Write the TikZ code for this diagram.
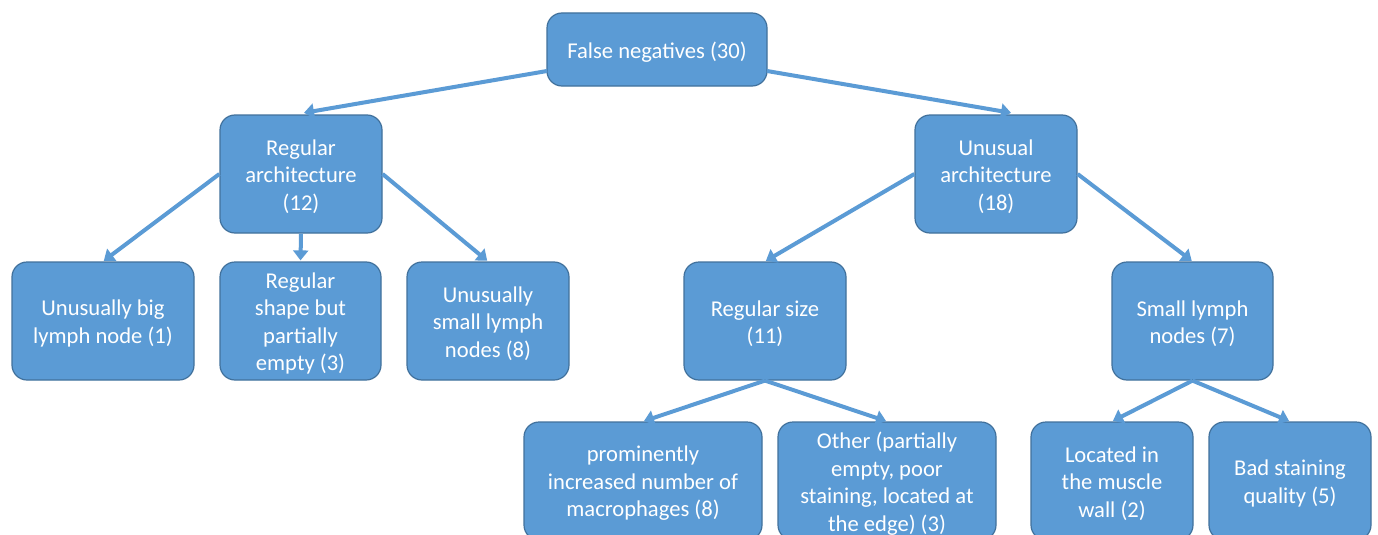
\documentclass[tikz,border=0pt]{standalone}
\usepackage{fontspec}
\setmainfont{Carlito}
\usetikzlibrary{arrows.meta}
\definecolor{boxfill}{HTML}{5B9BD5}
\definecolor{boxline}{HTML}{41719C}
\definecolor{arrowcol}{HTML}{5B9BD5}
\tikzset{
  box/.style={draw=boxline, line width=1.2pt, fill=boxfill, rounded corners=15pt,
    inner sep=0pt},
  boxtext/.style={text=white, align=center, inner sep=0pt, yshift=-2.5pt,
    font=\fontsize{22.6}{27.5}\selectfont},
  conn/.style={draw=arrowcol, line width=4pt,
    -{Triangle[length=10pt,width=15pt]}, shorten >=1pt}
}
\begin{document}
\begin{tikzpicture}[x=1pt,y=-1pt]
\useasboundingbox (0,0) rectangle (1378,535);
\clip (0,0) rectangle (1378,535);
\fill[white] (0,0) rectangle (1378,535);
% nodes
\node[box, minimum width=220pt, minimum height=73pt, label={[boxtext]center:False negatives (30)}] (root) at (657,49.5) {};
\node[box, minimum width=162pt, minimum height=118pt, label={[boxtext]center:{Regular\\architecture\\(12)}}] (reg) at (301,174) {};
\node[box, minimum width=162pt, minimum height=118pt, label={[boxtext]center:{Unusual\\architecture\\(18)}}] (unu) at (996,174) {};
\node[box, minimum width=182pt, minimum height=118pt, label={[boxtext]center:{Unusually big\\lymph node (1)}}] (big) at (103,321) {};
\node[box, minimum width=161pt, minimum height=118pt, label={[boxtext]center:{Regular\\shape but\\partially\\empty (3)}}] (shape) at (300.5,321) {};
\node[box, minimum width=162pt, minimum height=118pt, label={[boxtext]center:{Unusually\\small lymph\\nodes (8)}}] (small) at (488,321) {};
\node[box, minimum width=162pt, minimum height=118pt, label={[boxtext]center:{Regular size\\(11)}}] (size) at (765,321) {};
\node[box, minimum width=161pt, minimum height=118pt, label={[boxtext]center:{Small lymph\\nodes (7)}}] (slymph) at (1192.5,321) {};
\node[box, minimum width=238pt, minimum height=118pt, label={[boxtext]center:{prominently\\increased number of\\macrophages (8)}}] (macro) at (643,481) {};
\node[box, minimum width=218pt, minimum height=118pt, label={[boxtext]center:{Other (partially\\empty, poor\\staining, located at\\the edge) (3)}}] (other) at (887,481) {};
\node[box, minimum width=162pt, minimum height=118pt, label={[boxtext]center:{Located in\\the muscle\\wall (2)}}] (muscle) at (1112,481) {};
\node[box, minimum width=162pt, minimum height=118pt, label={[boxtext]center:{Bad staining\\quality (5)}}] (stain) at (1290,481) {};
% connectors
\coordinate (rootL) at (547,71);
\coordinate (rootR) at (767,71);
\coordinate (regT) at (303,113);
\coordinate (unuT) at (1012,113);
\draw[conn] (rootL) -- (regT);
\draw[conn] (rootR) -- (unuT);
\draw[conn] (reg.west) -- (big.north);
\draw[conn] (reg.south) -- (shape.north);
\draw[conn] (reg.east) -- (small.north);
\draw[conn] (unu.west) -- (size.north);
\draw[conn] (unu.east) -- (slymph.north);
\draw[conn] (size.south) -- (macro.north);
\draw[conn] (size.south) -- (other.north);
\draw[conn] (slymph.south) -- (muscle.north);
\draw[conn] (slymph.south) -- (stain.north);
\end{tikzpicture}
\end{document}
